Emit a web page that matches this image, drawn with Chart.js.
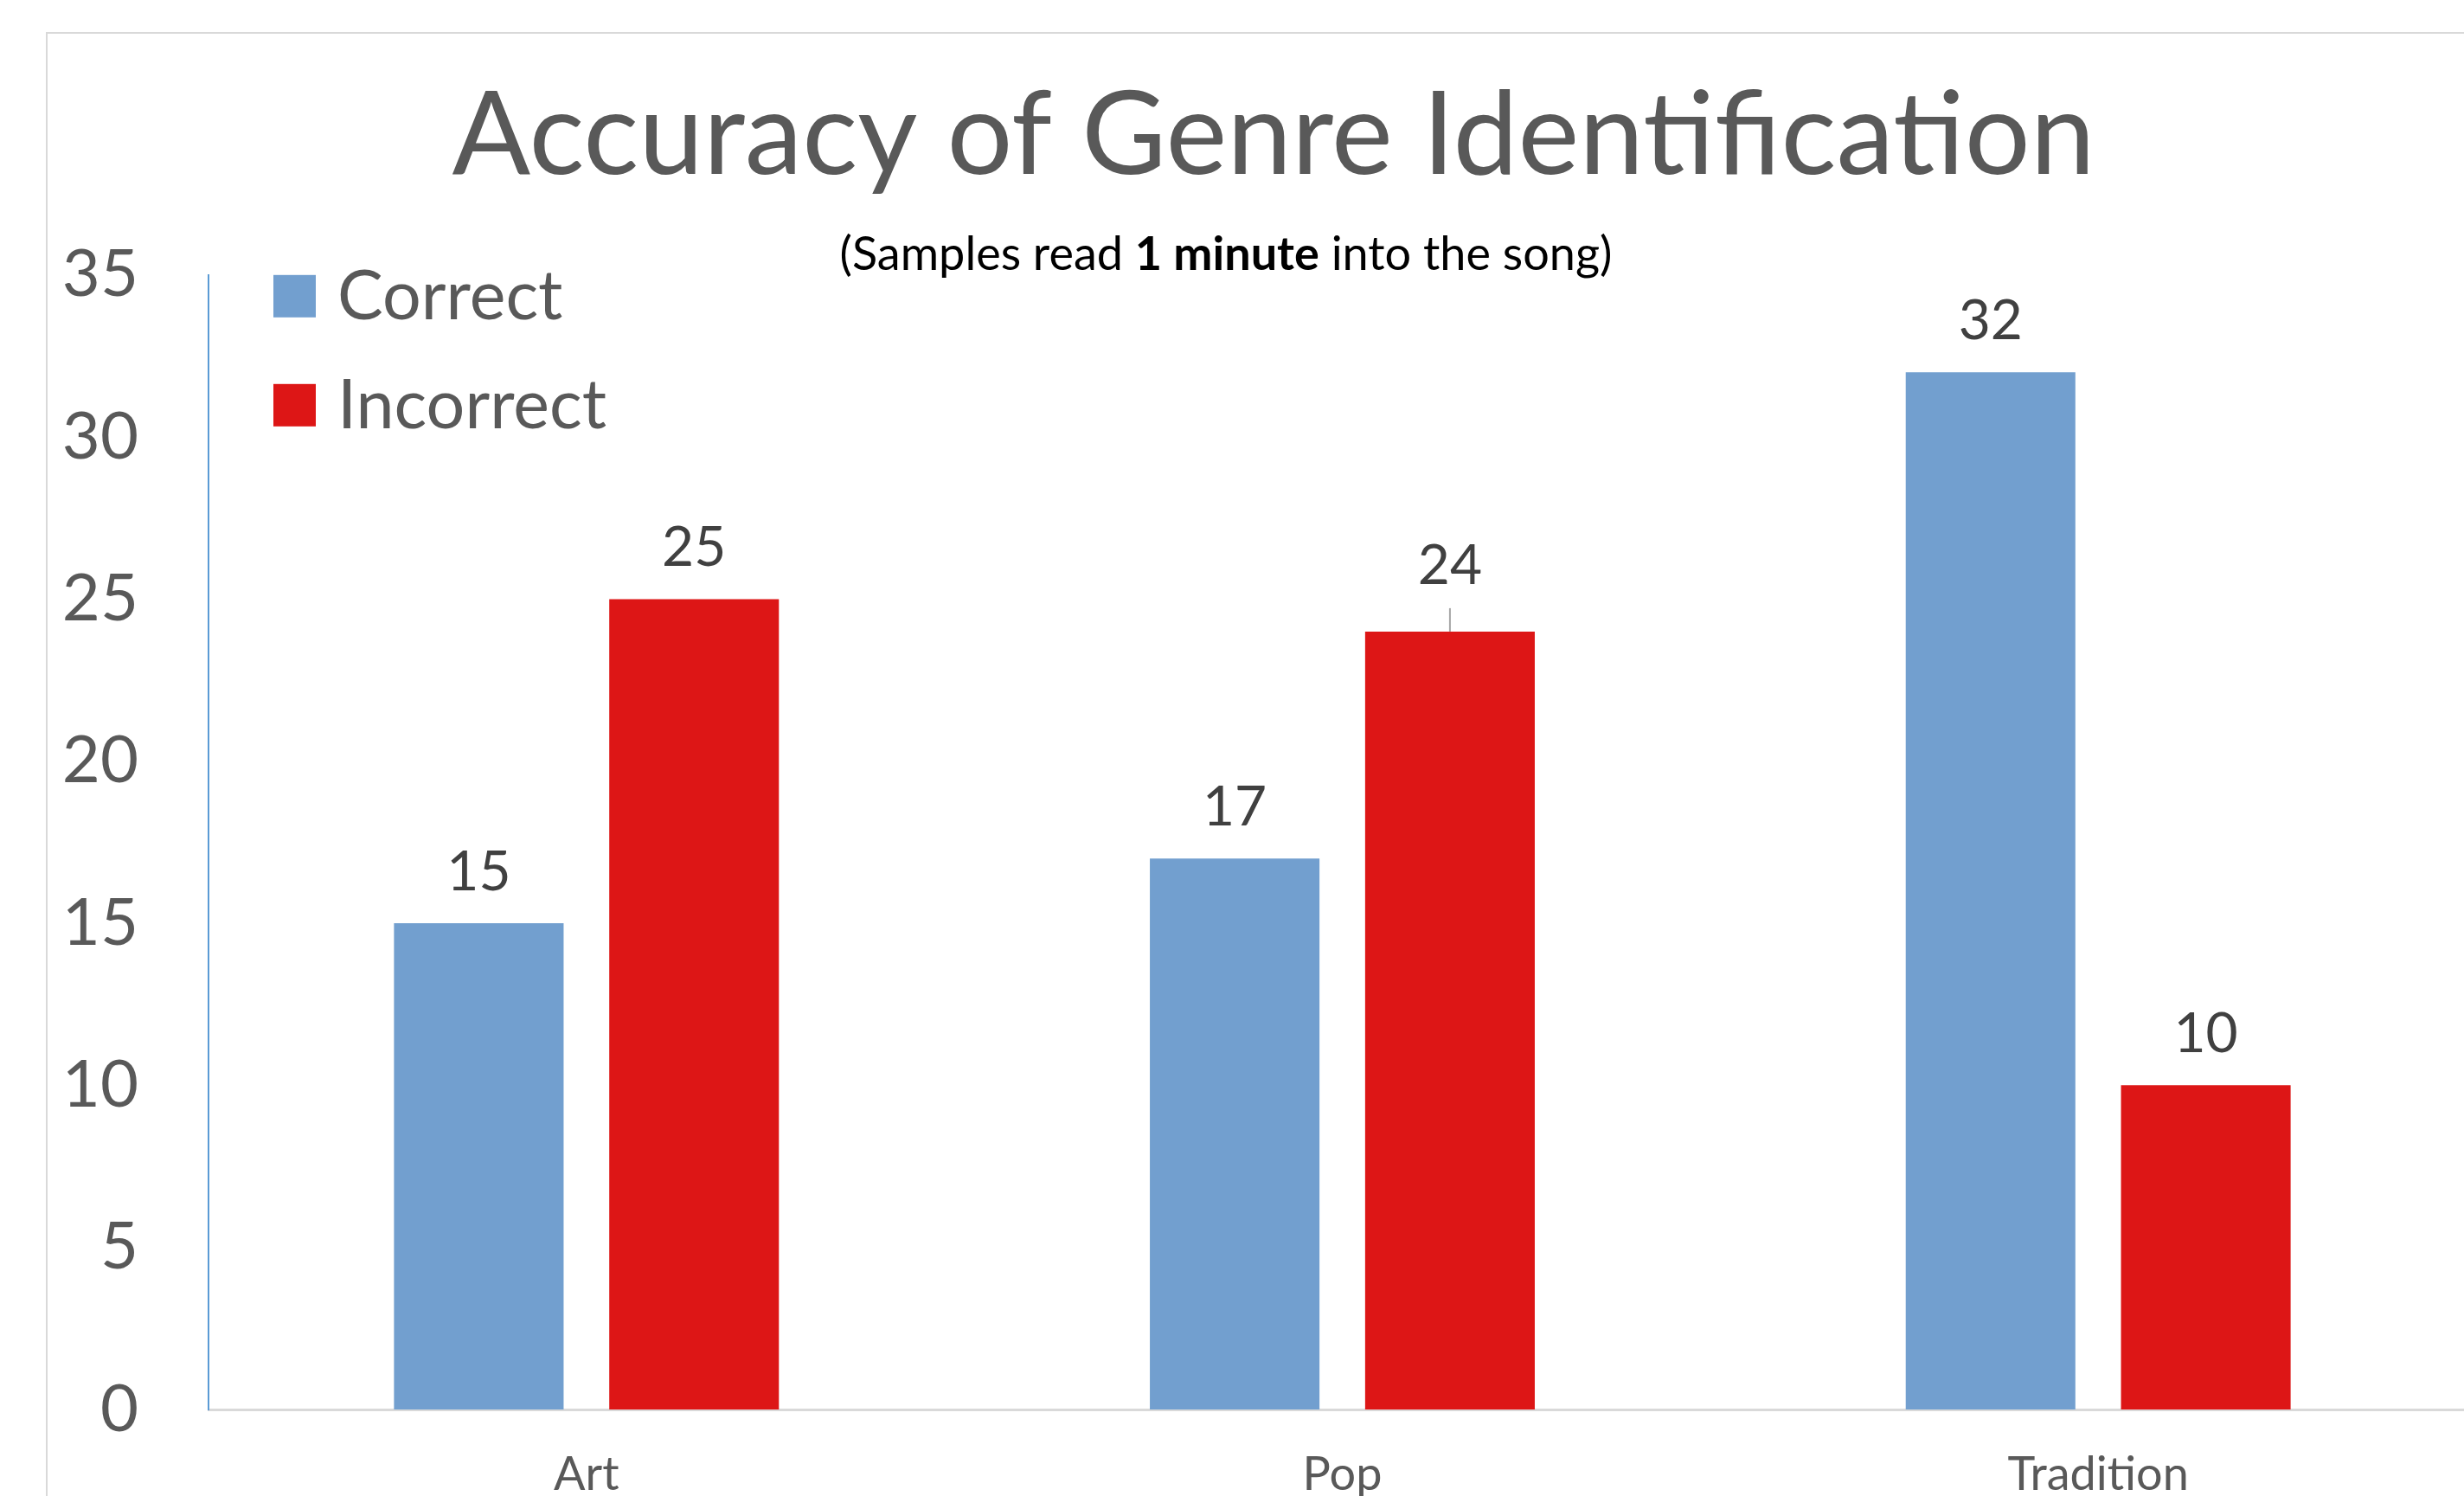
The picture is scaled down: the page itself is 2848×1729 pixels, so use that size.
<!DOCTYPE html>
<html>
<head>
<meta charset="utf-8">
<script src="https://cdn.jsdelivr.net/npm/chart.js@4.4.1/dist/chart.umd.min.js"></script>
<style>
  html, body { margin: 0; padding: 0; background: #fff; overflow: hidden; width: 2848px; height: 1729px; }
  #frame {
    position: absolute; left: 53px; top: 37px;
    border-left: 2px solid #d9d9d9; border-top: 2px solid #d9d9d9;
    width: 2834px; height: 1780px;
  }
  canvas { display: block; }
</style>
</head>
<body>
<div id="frame"><canvas id="genreChart" width="2834" height="1780" style="width:2834px;height:1780px"></canvas></div>
<script>
// chart data
const genres = ['Art', 'Pop', 'Tradition'];
const correctCounts = [15, 17, 32];
const incorrectCounts = [25, 24, 10];
const yTicks = [0, 5, 10, 15, 20, 25, 30, 35];

const FONT = "Lato, 'Open Sans', sans-serif";
const BLUE = '#729fcf';
const RED = '#dd1616';

// value labels above bars (the Pop/Incorrect one was pulled up with a leader line)
const barLabels = {
    id: 'barLabels',
    afterDatasetsDraw(chart) {
        const ctx = chart.ctx;
        ctx.save();
        ctx.fillStyle = '#404040';
        ctx.font = '64px ' + FONT;
        ctx.textAlign = 'center';
        ctx.textBaseline = 'alphabetic';
        chart.data.datasets.forEach((ds, di) => {
            chart.getDatasetMeta(di).data.forEach((bar, i) => {
                let lift = 38;
                if (di === 1 && i === 1) {
                    lift = 55;
                    ctx.strokeStyle = '#a6a6a6';
                    ctx.lineWidth = 2;
                    ctx.beginPath();
                    ctx.moveTo(bar.x, bar.y - 27);
                    ctx.lineTo(bar.x, bar.y);
                    ctx.stroke();
                }
                ctx.fillText(String(ds.data[i]), bar.x, bar.y - lift);
            });
        });
        ctx.restore();
    }
};

// legend in the top left corner of the plot + subtitle with a bold part
const extras = {
    id: 'extras',
    afterDraw(chart) {
        const ctx = chart.ctx;
        const area = chart.chartArea;
        ctx.save();
        chart.data.datasets.forEach((ds, i) => {
            const x = area.left + 75;
            const y = area.top + i * 126;
            ctx.fillStyle = ds.backgroundColor;
            ctx.fillRect(x, y, 49, 49);
            ctx.fillStyle = '#595959';
            ctx.font = '79px ' + FONT;
            ctx.textAlign = 'left';
            ctx.textBaseline = 'alphabetic';
            ctx.fillText(ds.label, x + 49 + 25, y + 51);
        });

        const parts = [
            ['(Samples read ', 'normal'],
            ['1 minute', 'bold'],
            [' into the song)', 'normal']
        ];
        let total = 0;
        parts.forEach(p => {
            ctx.font = p[1] + ' 54px ' + FONT;
            p.push(ctx.measureText(p[0]).width);
            total += p[2];
        });
        let x = 1362 - total / 2;
        ctx.fillStyle = '#000';
        parts.forEach(p => {
            ctx.font = p[1] + ' 54px ' + FONT;
            ctx.fillText(p[0], x, 273);
            x += p[2];
        });
        ctx.restore();
    }
};

new Chart(document.getElementById('genreChart'), {
    type: 'bar',
    data: {
        labels: genres,
        datasets: [
            { label: 'Correct', data: correctCounts, backgroundColor: BLUE },
            { label: 'Incorrect', data: incorrectCounts, backgroundColor: RED }
        ]
    },
    options: {
        responsive: false,
        animation: false,
        layout: { padding: 0 },
        datasets: {
            bar: { categoryPercentage: 0.5696, barPercentage: 0.788 }
        },
        plugins: {
            legend: { display: false },
            tooltip: { enabled: false },
            title: {
                display: true,
                text: 'Accuracy of Genre Identification',
                color: '#595959',
                font: { family: FONT, size: 134, weight: 'normal', lineHeight: 1.2 },
                padding: { top: 38, bottom: 80 }
            }
        },
        scales: {
            x: {
                grid: { display: false, drawTicks: false },
                border: { display: true, color: '#d9d9d9', width: 3 },
                ticks: { color: '#595959', font: { family: FONT, size: 54 }, padding: 43 },
                afterFit(scale) { scale.height = 190; }
            },
            y: {
                min: 0,
                max: 35,
                grid: { display: false, drawTicks: false },
                border: { display: true, color: '#5b9bd5', width: 2 },
                afterBuildTicks(scale) { scale.ticks = yTicks.map(v => ({ value: v })); },
                ticks: { color: '#595959', font: { family: FONT, size: 76 }, padding: 81 },
                afterFit(scale) { scale.width = 186; }
            },
            // empty spacer on the right so the plot runs past the visible edge
            yRight: {
                position: 'right',
                grid: { display: false, drawTicks: false },
                border: { display: false },
                ticks: { display: false },
                afterFit(scale) { scale.width = 27; }
            }
        }
    },
    plugins: [barLabels, extras]
});
</script>
</body>
</html>
